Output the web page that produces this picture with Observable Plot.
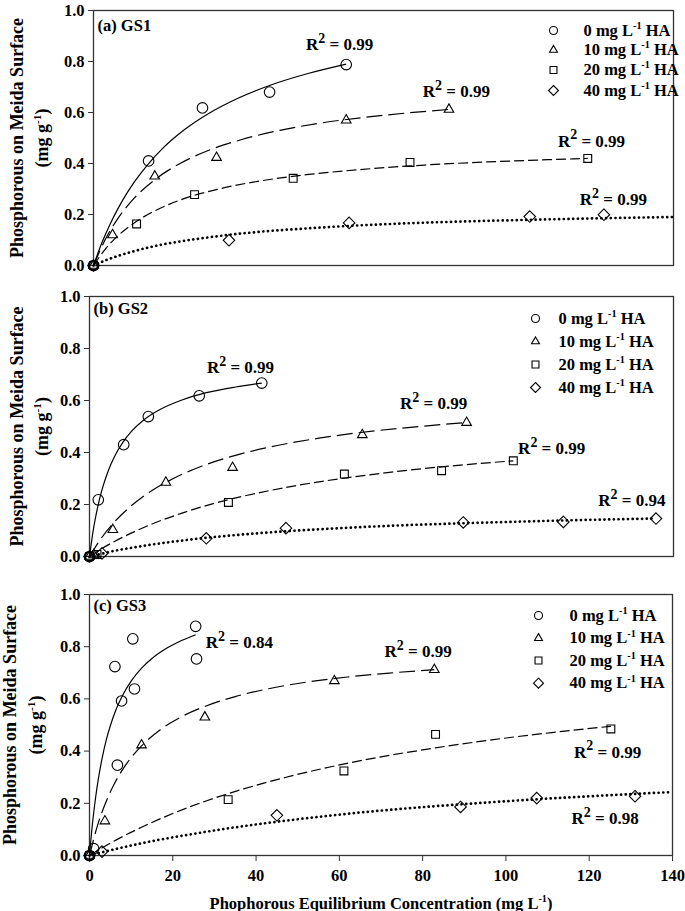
<!DOCTYPE html>
<html>
<head>
<meta charset="utf-8">
<script src="https://cdn.jsdelivr.net/npm/d3@7"></script>
<script src="https://cdn.jsdelivr.net/npm/@observablehq/plot@0.6"></script>
<style>
  body { margin: 0; background: #fff; }
  #chart { width: 685px; }
  #chart svg { display: block; }
</style>
</head>
<body>
<div id="chart"></div>
<script>
// ---------- text / categories ----------
const seriesNames = ["0 mg L^{-1} HA", "10 mg L^{-1} HA", "20 mg L^{-1} HA", "40 mg L^{-1} HA"];
const panelTitles = ["(a) GS1", "(b) GS2", "(c) GS3"];
const r2Values = [
  ["0.99", "0.99", "0.99", "0.99"],
  ["0.99", "0.99", "0.99", "0.94"],
  ["0.84", "0.99", "0.99", "0.98"]
];
const yTitle1 = "Phosphorous on Meida Surface";
const yTitle2 = "(mg g^{-1})";
const xTitle = "Phophorous Equilibrium Concentration (mg L^{-1})";
const xTicks = [0, 20, 40, 60, 80, 100, 120, 140];
const yTicks = [0, 0.2, 0.4, 0.6, 0.8, 1.0];

// ---------- measured points [Ce, qe] ----------
const gs1_0mg  = [[0,0],[13.3,0.41],[26.3,0.618],[42.5,0.68],[61.0,0.788]];
const gs1_10mg = [[0,0],[4.6,0.12],[14.8,0.35],[29.7,0.423],[61.0,0.57],[85.8,0.612]];
const gs1_20mg = [[0,0],[10.4,0.163],[24.4,0.278],[48.2,0.342],[76.4,0.404],[119.3,0.42]];
const gs1_40mg = [[0,0],[32.7,0.099],[61.7,0.167],[105.3,0.192],[123.2,0.199]];

const gs2_0mg  = [[0,0],[2.1,0.218],[8.2,0.43],[14.1,0.538],[26.3,0.618],[41.3,0.667]];
const gs2_10mg = [[0,0],[1.0,0.006],[5.6,0.103],[18.3,0.285],[34.3,0.342],[65.4,0.468],[90.4,0.515]];
const gs2_20mg = [[0,0],[1.8,0.008],[33.3,0.208],[61.1,0.317],[84.4,0.33],[101.6,0.368]];
const gs2_40mg = [[0,0],[3.0,0.012],[28.0,0.07],[47.1,0.109],[89.6,0.131],[113.6,0.133],[135.8,0.146]];

const gs3_0mg  = [[0,0],[1.0,0.026],[6.1,0.724],[6.7,0.346],[7.7,0.592],[10.4,0.83],[10.8,0.638],[25.5,0.878],[25.7,0.753]];
const gs3_10mg = [[0,0],[3.7,0.132],[12.5,0.423],[27.7,0.53],[58.8,0.669],[82.8,0.712]];
const gs3_20mg = [[0,0],[33.3,0.214],[61.1,0.324],[83.1,0.464],[125.2,0.485]];
const gs3_40mg = [[0,0],[3.0,0.015],[45.0,0.154],[89.1,0.186],[107.4,0.22],[131.0,0.227]];

// ---------- fitted curves [Ce, qe] ----------
const gs1_0mg_fit  = [[0,0],[2,0.088],[4,0.162],[6,0.226],[8,0.282],[10,0.331],[13,0.394],[17,0.464],[22,0.533],[28,0.598],[35,0.657],[43,0.709],[52,0.754],[61,0.79]];
const gs1_10mg_fit = [[0,0],[3,0.107],[6,0.187],[10,0.267],[15,0.339],[21,0.401],[28,0.453],[36,0.495],[45,0.53],[55,0.559],[65,0.58],[75,0.597],[85.8,0.612]];
const gs1_20mg_fit = [[0,0],[3,0.067],[6,0.118],[10,0.169],[15,0.216],[22,0.263],[30,0.299],[40,0.331],[52,0.357],[65,0.377],[80,0.394],[95,0.406],[110,0.415],[119.3,0.42]];
const gs1_40mg_fit = [[0,0],[3,0.021],[6,0.038],[10,0.057],[15,0.077],[22,0.097],[30,0.115],[40,0.132],[52,0.146],[65,0.158],[80,0.168],[95,0.175],[110,0.181],[125,0.186],[140,0.19]];

const gs2_0mg_fit  = [[0,0],[1,0.111],[2,0.193],[3,0.257],[4.5,0.33],[6,0.385],[8,0.439],[10,0.48],[13,0.525],[17,0.566],[22,0.601],[28,0.63],[35,0.652],[41.3,0.667]];
const gs2_10mg_fit = [[0,0],[3,0.074],[6,0.133],[10,0.195],[15,0.254],[20,0.299],[27,0.348],[35,0.389],[45,0.427],[55,0.455],[65,0.477],[75,0.494],[90.4,0.515]];
const gs2_20mg_fit = [[0,0],[3,0.031],[6,0.058],[10,0.09],[15,0.125],[22,0.166],[30,0.205],[40,0.243],[50,0.274],[60,0.299],[70,0.32],[80,0.338],[90,0.353],[101.6,0.368]];
const gs2_40mg_fit = [[0,0],[3,0.011],[6,0.022],[10,0.033],[15,0.046],[22,0.061],[30,0.075],[40,0.089],[50,0.1],[60,0.109],[75,0.12],[90,0.128],[105,0.135],[120,0.141],[135.8,0.146]];

const gs3_0mg_fit  = [[0,0],[0.5,0.089],[1,0.163],[1.5,0.226],[2,0.281],[3,0.37],[4,0.441],[5,0.497],[6.5,0.564],[8,0.615],[10,0.668],[12.5,0.718],[15,0.755],[18,0.789],[21.5,0.819],[25.5,0.846]];
const gs3_10mg_fit = [[0,0],[2,0.119],[4,0.207],[6,0.276],[9,0.354],[12.5,0.42],[17,0.482],[22,0.531],[28,0.573],[35,0.609],[43,0.639],[52,0.664],[62,0.684],[72,0.699],[82.8,0.712]];
const gs3_20mg_fit = [[0,0],[4,0.038],[8,0.073],[13,0.112],[20,0.161],[28,0.209],[37,0.255],[47,0.299],[58,0.34],[70,0.378],[83,0.412],[97,0.444],[111,0.471],[125.2,0.495]];
const gs3_40mg_fit = [[0,0],[5,0.02],[10,0.038],[15,0.055],[22,0.075],[30,0.096],[40,0.119],[50,0.139],[62,0.16],[75,0.179],[90,0.197],[105,0.213],[120,0.227],[140,0.243]];

// ---------- styling (not data) ----------
const FONT = "'Liberation Serif', 'Times New Roman', Times, serif";
const symbols   = ["circle", "triangle2", "square2", "diamond2"];
const symR      = [5.3, 4.6, 5.0, 5.2];
const legR      = [4.0, 3.8, 4.4, 4.5];
const dashes    = [null, "16,6", "10,4", "0.1,4.6"];
const lineWidth = [1.2, 1.2, 1.2, 2.7];
const caps      = ["butt", "butt", "butt", "round"];

const panels = [
  { pts: [gs1_0mg, gs1_10mg, gs1_20mg, gs1_40mg], fits: [gs1_0mg_fit, gs1_10mg_fit, gs1_20mg_fit, gs1_40mg_fit],
    top: 0, height: 285, ml: 93, mr: 12, mt: 10, mb: 20, yT: [17, 42], titleDy: 15,
    legSym: 553, legText: 583, legRows: [30, 49.5, 69.5, 90],
    r2Pos: [[59.4,0.865],[87.6,0.681],[120.2,0.488],[125.5,0.258]], xAxis: false },
  { pts: [gs2_0mg, gs2_10mg, gs2_20mg, gs2_40mg], fits: [gs2_0mg_fit, gs2_10mg_fit, gs2_20mg_fit, gs2_40mg_fit],
    top: 285, height: 290, ml: 89, mr: 12, mt: 11, mb: 19, yT: [17, 42], titleDy: 12,
    legSym: 535, legText: 558, legRows: [318, 341, 364, 387],
    r2Pos: [[36.2,0.728],[82.5,0.587],[110.8,0.414],[130,0.215]], xAxis: false },
  { pts: [gs3_0mg, gs3_10mg, gs3_20mg, gs3_40mg], fits: [gs3_0mg_fit, gs3_10mg_fit, gs3_20mg_fit, gs3_40mg_fit],
    top: 575, height: 336, ml: 89, mr: 13, mt: 19, mb: 56, yT: [10, 36], titleDy: 11,
    legSym: 538, legText: 569, legRows: [615, 637.7, 660, 682.7],
    r2Pos: [[36,0.817],[78.9,0.782],[124.4,0.396],[123.8,0.141]], xAxis: true }
];

function applySup(svg) {
  svg.querySelectorAll("text").forEach(el => {
    const t = el.textContent;
    if (!t.includes("^{")) return;
    const base = parseFloat(getComputedStyle(el).fontSize) || 16;
    const parts = t.split(/\^\{([^}]*)\}/);
    while (el.firstChild) el.removeChild(el.firstChild);
    let cur = 0;
    parts.forEach((p, i) => {
      if (p === "") return;
      const sup = i % 2 === 1;
      const big = p === "2";
      const ts = document.createElementNS("http://www.w3.org/2000/svg", "tspan");
      ts.textContent = p;
      const target = sup ? -base * 0.42 : 0;
      if (sup) ts.setAttribute("font-size", base * (big ? 0.82 : 0.62));
      if (target !== cur) ts.setAttribute("dy", target - cur);
      cur = target;
      el.appendChild(ts);
    });
  });
}

const chart = document.getElementById("chart");

panels.forEach((P, pi) => {
  const iw = 685 - P.ml - P.mr;
  const ih = P.height - P.mt - P.mb;
  const fx = px => (px - P.ml) / iw * 140;
  const fy = py => (P.mt + ih - (py - P.top)) / ih;

  const marks = [
    Plot.frame({ stroke: "#333", strokeWidth: 1.3 }),
    Plot.axisY({ ticks: yTicks, tickFormat: d3.format(".1f"), tickSize: 5, tickPadding: 4, label: null, stroke: "#333", fontSize: 16.5 })
  ];
  if (P.xAxis) {
    marks.push(Plot.axisX({ ticks: xTicks, tickFormat: d3.format("d"), tickSize: 6, tickPadding: 8, label: null, stroke: "#333", fontSize: 16.5 }));
    marks.push(Plot.text([xTitle], { text: d => d, frameAnchor: "bottom", dy: 48, lineAnchor: "middle", fontSize: 16.5 }));
  }

  // fitted curves
  P.fits.forEach((f, i) => {
    marks.push(Plot.line(f, { x: d => d[0], y: d => d[1], curve: "monotone-x", stroke: "black",
      strokeWidth: lineWidth[i], strokeDasharray: dashes[i] || undefined, strokeLinecap: caps[i] }));
  });
  // observed points
  P.pts.forEach((s, i) => {
    marks.push(Plot.dot(s, { x: d => d[0], y: d => d[1], symbol: symbols[i], r: symR[i],
      stroke: "black", strokeWidth: 1.1, fill: "none" }));
  });

  // R^2 labels
  const r2 = r2Values[pi].map((v, i) => ({ x: P.r2Pos[i][0], y: P.r2Pos[i][1], t: "R^{2} = " + v }));
  marks.push(Plot.text(r2, { x: "x", y: "y", text: "t", fontSize: 17, textAnchor: "middle", lineAnchor: "middle" }));

  // panel title
  marks.push(Plot.text([panelTitles[pi]], { text: d => d, frameAnchor: "top-left", dx: 4, dy: P.titleDy, textAnchor: "start", lineAnchor: "middle", fontSize: 16.5 }));

  // y-axis title (two lines)
  marks.push(Plot.text([yTitle1], { text: d => d, frameAnchor: "left", dx: P.yT[0] - P.ml, rotate: -90, textAnchor: "middle", lineAnchor: "middle", fontSize: 18 }));
  marks.push(Plot.text([yTitle2], { text: d => d, frameAnchor: "left", dx: P.yT[1] - P.ml, rotate: -90, textAnchor: "middle", lineAnchor: "middle", fontSize: 18 }));

  // legend
  seriesNames.forEach((name, i) => {
    const row = [{ x: fx(P.legSym), y: fy(P.legRows[i]) }];
    marks.push(Plot.dot(row, { x: "x", y: "y", symbol: symbols[i], r: legR[i], stroke: "black", strokeWidth: 1.1, fill: "none" }));
    marks.push(Plot.text([{ x: fx(P.legText), y: fy(P.legRows[i]), t: name }], { x: "x", y: "y", text: "t", textAnchor: "start", lineAnchor: "middle", fontSize: 16.5 }));
  });

  const svg = Plot.plot({
    width: 685,
    height: P.height,
    marginLeft: P.ml, marginRight: P.mr, marginTop: P.mt, marginBottom: P.mb,
    x: { domain: [0, 140], axis: P.xAxis ? undefined : null },
    y: { domain: [0, 1] },
    style: { fontFamily: FONT, fontSize: "16px", fontWeight: "bold", color: "black", background: "white", overflow: "visible" },
    marks
  });
  chart.appendChild(svg);
  applySup(svg);
});
</script>
</body>
</html>
